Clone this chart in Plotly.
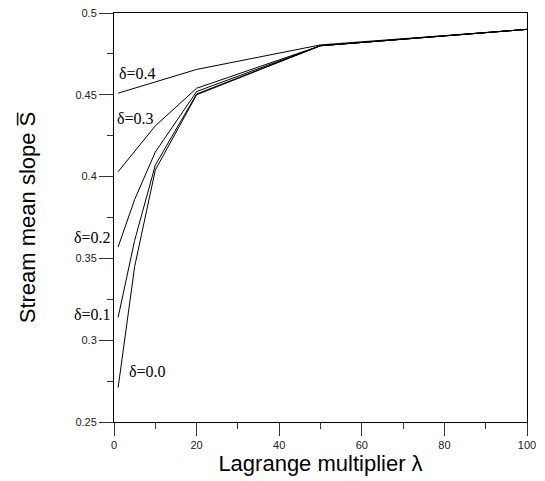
import plotly.graph_objects as go

# Lagrange multiplier values (x) and mean slope values per delta
lam_full = [1, 5, 10, 20, 50, 100]
s_d00 = [0.271, 0.345, 0.404, 0.450, 0.480, 0.490]
s_d01 = [0.314, 0.361, 0.407, 0.4505, 0.480, 0.490]
s_d02 = [0.357, 0.386, 0.415, 0.452, 0.480, 0.490]
lam_d03 = [1, 10, 20, 50, 100]
s_d03 = [0.403, 0.431, 0.454, 0.480, 0.490]
lam_d04 = [1, 20, 50, 100]
s_d04 = [0.451, 0.4655, 0.4805, 0.490]

labels = ["δ=0.0", "δ=0.1", "δ=0.2", "δ=0.3", "δ=0.4"]
label_x = [8.1, -5.3, -5.2, 5.1, 5.7]
label_y = [0.2806, 0.316, 0.363, 0.4358, 0.4633]

series = [(lam_full, s_d00), (lam_full, s_d01), (lam_full, s_d02),
          (lam_d03, s_d03), (lam_d04, s_d04)]

fig = go.Figure()
for (xs, ys), name in zip(series, labels):
    fig.add_trace(go.Scatter(x=xs, y=ys, mode="lines", name=name,
                             line=dict(color="black", width=1), showlegend=False))

for t, x, y in zip(labels, label_x, label_y):
    fig.add_annotation(x=x / 100.0, y=y, xref="paper", yref="y", text=t, showarrow=False,
                       xanchor="center", yanchor="middle",
                       font=dict(family="Liberation Serif", size=16, color="black"))

tickfont = dict(family="Liberation Sans", size=11, color="#222")
fig.update_xaxes(range=[0, 100], tickmode="linear", tick0=0, dtick=20,
                 ticks="outside", ticklen=13, tickwidth=1, tickcolor="#333",
                 minor=dict(dtick=10, ticks="outside", ticklen=6, tickcolor="#333"),
                 showline=True, linecolor="black", linewidth=1, mirror=True,
                 showgrid=False, zeroline=False, tickfont=tickfont,
                 ticklabeloverflow="allow",
                 title=dict(text="Lagrange multiplier λ", standoff=4,
                            font=dict(family="Liberation Sans", size=22, color="black")))
fig.update_yaxes(range=[0.25, 0.5], tickmode="linear", tick0=0.25, dtick=0.05,
                 ticks="outside", ticklen=14, tickwidth=1, tickcolor="#333",
                 minor=dict(dtick=0.025, ticks="outside", ticklen=6, tickcolor="#333"),
                 showline=True, linecolor="black", linewidth=1, mirror=True,
                 showgrid=False, zeroline=False, tickfont=tickfont,
                 ticklabeloverflow="allow",
                 title=dict(text="Stream mean slope S\u0305", standoff=33,
                            font=dict(family="Liberation Sans", size=22, color="black")))

fig.update_layout(width=537, height=473, plot_bgcolor="white", paper_bgcolor="white",
                  margin=dict(l=106, r=18, t=5, b=59, autoexpand=False))
fig.write_html("out.html")
